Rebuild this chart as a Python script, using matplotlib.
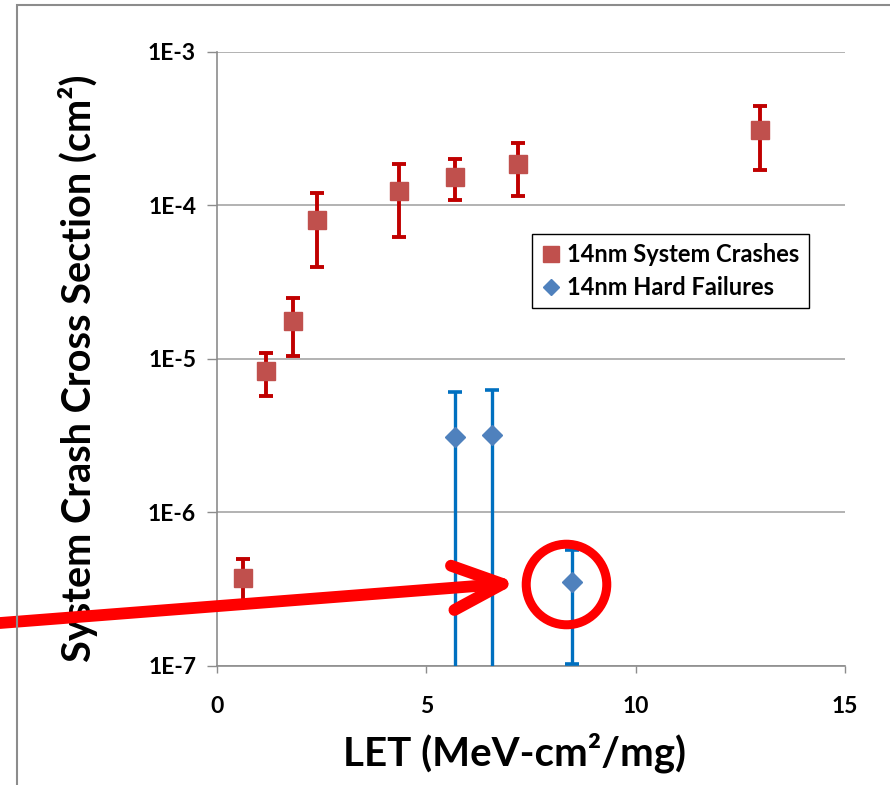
import matplotlib
matplotlib.use("Agg")
import matplotlib.pyplot as plt
import matplotlib.patches as patches
from matplotlib.lines import Line2D
from matplotlib.transforms import offset_copy
import numpy as np

plt.rcParams['font.family'] = ['Lato', 'DejaVu Sans']

# 14nm system crashes (LET, cross section, lower / upper error bounds)
crash_let = [0.61, 1.17, 1.81, 2.38, 4.34, 5.68, 7.19, 12.96]
crash_xs = [3.74e-7, 8.35e-6, 1.77e-5, 8.09e-5, 1.24e-4, 1.53e-4, 1.87e-4, 3.09e-4]
crash_lo = [2.6e-7, 5.74e-6, 1.04e-5, 3.98e-5, 6.18e-5, 1.08e-4, 1.15e-4, 1.69e-4]
crash_hi = [4.96e-7, 1.09e-5, 2.50e-5, 1.20e-4, 1.85e-4, 2.02e-4, 2.57e-4, 4.45e-4]

# 14nm hard failures
hard_let = [5.68, 6.56, 8.48]
hard_xs = [3.1e-6, 3.2e-6, 3.52e-7]
hard_lo = [1e-8, 1e-8, 1.03e-7]
hard_hi = [6.1e-6, 6.25e-6, 5.67e-7]

yticks = [1e-7, 1e-6, 1e-5, 1e-4, 1e-3]
ytick_labels = ['1E-7', '1E-6', '1E-5', '1E-4', '1E-3']
xticks = [0, 5, 10, 15]

fig = plt.figure(figsize=(8.9, 7.85), dpi=100)
ax = fig.add_axes([217/890, 1 - 665.7/785, 628/890, 613.7/785])

crash_err = [np.array(crash_xs) - np.array(crash_lo), np.array(crash_hi) - np.array(crash_xs)]
hard_err = [np.array(hard_xs) - np.array(hard_lo), np.array(hard_hi) - np.array(hard_xs)]

ax.errorbar(hard_let, hard_xs, yerr=hard_err, fmt='D', color='#4F81BD', ms=10.5,
            ecolor='#0070C0', elinewidth=2.4, capsize=5, capthick=2.6, zorder=3)
ax.errorbar(crash_let, crash_xs, yerr=crash_err, fmt='s', color='#C0504D', ms=13.5,
            ecolor='#C00000', elinewidth=2.8, capsize=5, capthick=2.8, zorder=4)

ax.set_yscale('log')
ax.set_ylim(1e-7, 1e-3)
ax.set_xlim(0, 15)
ax.set_yticks(yticks)
ax.set_yticklabels(ytick_labels, fontweight='bold')
ax.minorticks_off()
ax.set_xticks(xticks)
ax.set_xticklabels([str(t) for t in xticks], fontweight='bold')
ax.tick_params(axis='y', length=7, width=1, color='#8c8c8c', pad=8, labelsize=16.5)
ax.tick_params(axis='x', length=5, width=1, color='#8c8c8c', pad=17, labelsize=16.5)
ax.grid(axis='y', color='#a6a6a6', lw=1.2)
ax.set_axisbelow(True)
for s in ['top', 'right']:
    ax.spines[s].set_visible(False)
for s in ['left', 'bottom']:
    ax.spines[s].set_color('#8c8c8c')
    ax.spines[s].set_linewidth(1.2)

ax.set_xlabel('LET (MeV-cm²/mg)', fontsize=29, fontweight='bold')
ax.xaxis.set_label_coords(0.4745, -0.142, transform=ax.transAxes)
ax.xaxis.label.set_va('center')
ax.set_ylabel('System Crash Cross Section (cm²)', fontsize=28.5, fontweight='bold')
ax.yaxis.set_label_coords(-0.222, 0.484, transform=ax.transAxes)
ax.yaxis.label.set_va('center')

handles = [Line2D([], [], ls='none', marker='s', color='#C0504D', ms=12),
           Line2D([], [], ls='none', marker='D', color='#4F81BD', ms=8)]
leg = ax.legend(handles, ['14nm System Crashes', '14nm Hard Failures'], loc='upper left',
                bbox_to_anchor=(0.5016, 0.7035), borderaxespad=0, fancybox=False,
                edgecolor='black', framealpha=1, handlelength=0.8,
                handletextpad=0.3, borderpad=0.4, labelspacing=0.4,
                prop={'size': 17, 'weight': 'bold'})
leg.get_frame().set_linewidth(1)

# red circle + arrow highlighting the last hard failure
circ_tr = offset_copy(ax.transData, fig=fig, x=-6, y=-2, units='dots')
ax.plot(hard_let[2], hard_xs[2], 'o', ms=58, mfc='none', mec='#FF0000', mew=6.5,
        transform=circ_tr, clip_on=False, zorder=6)
head_tr = offset_copy(ax.transData, fig=fig, x=-55, y=-1, units='dots')
ax.annotate('', xy=(hard_let[2], hard_xs[2]), xycoords=head_tr,
            xytext=(0, 162), textcoords='figure pixels', annotation_clip=False,
            arrowprops=dict(arrowstyle='->,head_length=3.6,head_width=1.6', color='#FF0000',
                            lw=8.5, shrinkA=0, shrinkB=0, capstyle='round', joinstyle='round'),
            zorder=6)

fig.patches.append(patches.Rectangle((17/890, -0.1), 1.0, 1.1 - 5/785, transform=fig.transFigure,
                                     fill=False, ec='#8c8c8c', lw=1.5))

fig.savefig('out.png', dpi=100)
